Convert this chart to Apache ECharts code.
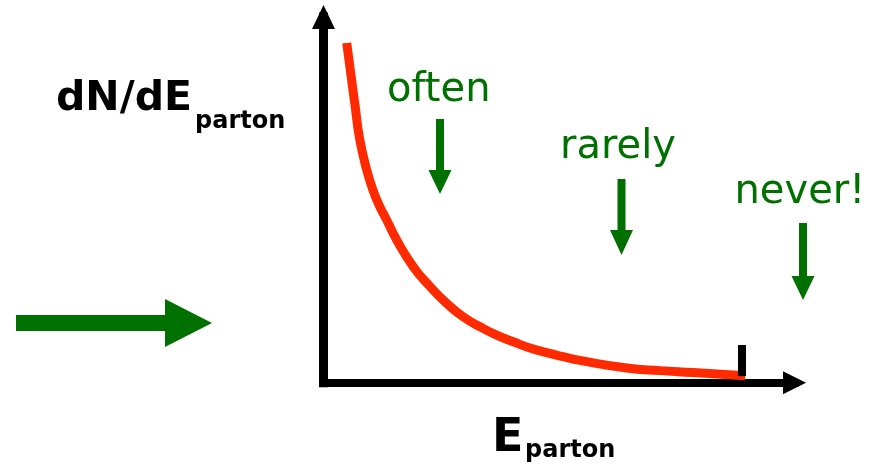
<!DOCTYPE html>
<html>
<head>
<meta charset="utf-8">
<script src="https://cdn.jsdelivr.net/npm/echarts@6/dist/echarts.min.js"></script>
<style>
  html, body { margin: 0; padding: 0; background: #fff; }
  #chart { width: 885px; height: 474px; }
</style>
</head>
<body>
<div id="chart"></div>
<script>
// spectrum (arbitrary units, axes 0..100)
const ePartonVals = [4.93, 5.77, 6.69, 7.64, 9.17, 10.57, 12.0, 13.42, 15.54, 19.07, 22.61, 26.16,
	29.68, 33.23, 36.77, 40.3, 43.84, 47.39, 50.91, 54.46, 64.44, 71.44, 78.45, 89.53];
const dNdEVals = [92.9, 84.7, 75.9, 66.9, 58.2, 52.4, 48.0, 44.5, 39.0, 31.7, 26.3, 21.7,
	18.0, 15.3, 13.0, 11.2, 9.5, 8.2, 7.1, 6.1, 4.0, 3.3, 2.8, 1.9];
// kinematic limit marker
const cutoffE = [88.85];
const cutoffRange = [1.8, 10.3];
// annotation words
const rateWords = ["often", "rarely", "never!"];

const GREEN = "#007000";
const RED = "#ff2a00";

const chart = echarts.init(document.getElementById("chart"));

// down arrow as a polygon: centre x, shaft top, head top, tip
function downArrow(cx, top, headTop, tip) {
	return {
		type: "polygon",
		shape: {
			points: [
				[cx - 4, top], [cx + 4, top], [cx + 4, headTop], [cx + 11.5, headTop],
				[cx, tip], [cx - 11.5, headTop], [cx - 4, headTop]
			]
		},
		style: { fill: GREEN }
	};
}

function label(x, y, text, size, bold, color) {
	return {
		type: "text",
		x: x,
		y: y,
		style: {
			text: text,
			fill: color,
			font: (bold ? "bold " : "") + size + "px 'DejaVu Sans'",
			verticalAlign: "middle",
			align: "left"
		}
	};
}

chart.setOption({
	animation: false,
	grid: { left: 323.5, right: 90.5, top: 17, bottom: 91.3 },
	xAxis: {
		type: "value",
		min: 0,
		max: 100,
		axisLine: {
			show: true,
			symbol: ["none", "triangle"],
			symbolSize: [23, 23],
			lineStyle: { color: "#000", width: 8, cap: "square" }
		},
		axisTick: { show: false },
		axisLabel: { show: false },
		splitLine: { show: false }
	},
	yAxis: {
		type: "value",
		min: 0,
		max: 100,
		axisLine: {
			show: true,
			symbol: ["none", "triangle"],
			symbolSize: [23, 24],
			lineStyle: { color: "#000", width: 9, cap: "square" }
		},
		axisTick: { show: false },
		axisLabel: { show: false },
		splitLine: { show: false }
	},
	series: [
		{
			type: "line",
			data: ePartonVals.map((e, i) => [e, dNdEVals[i]]),
			smooth: 0.5,
			showSymbol: false,
			clip: false,
			lineStyle: { color: RED, width: 9, cap: "butt", join: "round" },
			markLine: {
				silent: true,
				symbol: ["none", "none"],
				label: { show: false },
				lineStyle: { color: "#000", width: 8, type: "solid" },
				data: [[
					{ coord: [cutoffE[0], cutoffRange[0]] },
					{ coord: [cutoffE[0], cutoffRange[1]] }
				]]
			}
		}
	],
	graphic: [
		// axis titles
		label(56, 99, "dN/dE", 41, true, "#000"),
		label(195, 122, "parton", 24, true, "#000"),
		label(492, 439, "E", 46, true, "#000"),
		label(525, 451, "parton", 24, true, "#000"),
		// rate words
		label(387, 91, rateWords[0], 40, false, GREEN),
		label(560, 148, rateWords[1], 40, false, GREEN),
		label(734.5, 193, rateWords[2], 40, false, GREEN),
		downArrow(440, 119, 170, 194),
		downArrow(621.5, 179, 230, 255),
		downArrow(803, 223, 276, 300),
		// big arrow on the left
		{
			type: "polygon",
			shape: {
				points: [[16, 315], [165, 315], [165, 299], [212, 323], [165, 347], [165, 331], [16, 331]]
			},
			style: { fill: GREEN }
		}
	]
});
</script>
</body>
</html>
